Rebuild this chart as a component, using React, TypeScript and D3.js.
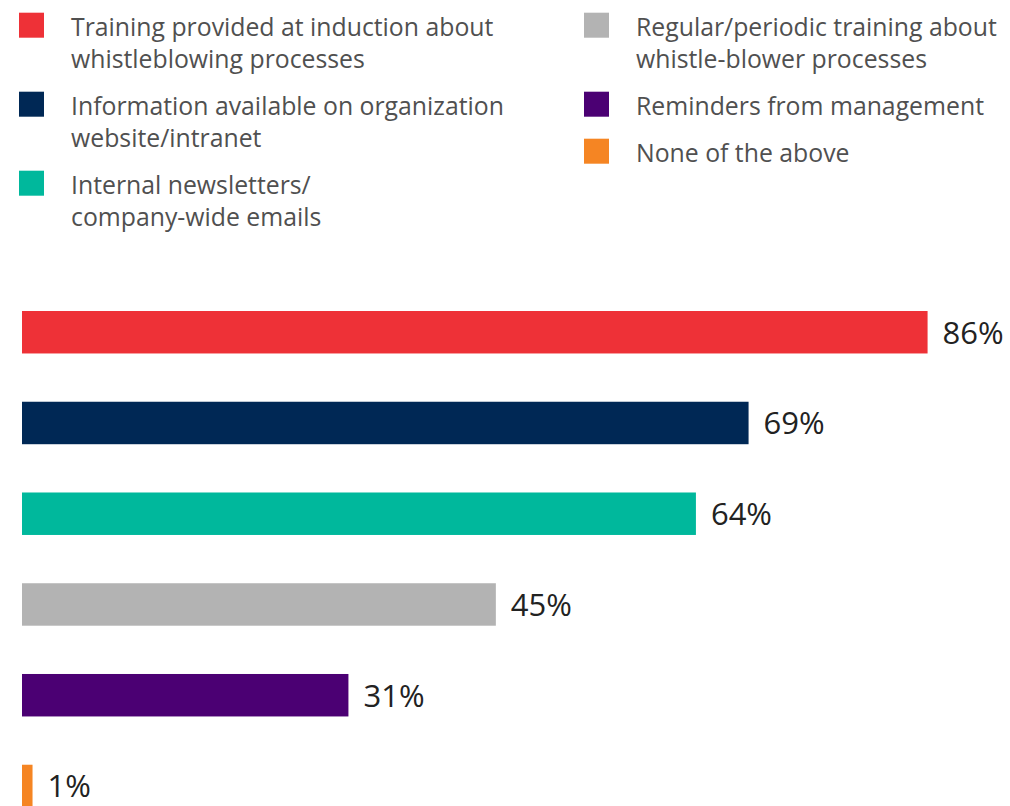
import React from "react";
import * as d3 from "d3";

const categories = [
  "Training provided at induction about whistleblowing processes",
  "Information available on organization website/intranet",
  "Internal newsletters/ company-wide emails",
  "Regular/periodic training about whistle-blower processes",
  "Reminders from management",
  "None of the above",
];
const legendLines = [
  ["Training provided at induction about", "whistleblowing processes"],
  ["Information available on organization", "website/intranet"],
  ["Internal newsletters/", "company-wide emails"],
  ["Regular/periodic training about", "whistle-blower processes"],
  ["Reminders from management"],
  ["None of the above"],
];
const values = [86, 69, 64, 45, 31, 1];
const colors = ["#EE3137", "#002855", "#00B89C", "#B3B3B3", "#4B0073", "#F58523"];

const W = 1010;
const H = 806;
const FONT = "'Open Sans', 'Noto Sans', sans-serif";

export default function App() {
  const x = d3.scaleLinear().domain([0, 100]).range([22, 22 + 1053]);
  const y = d3
    .scaleBand<string>()
    .domain(categories)
    .range([311, 807.2])
    .paddingInner(0.532)
    .paddingOuter(0);

  const lineH = 32;
  const itemGap = 15;
  const cols = [
    { x: 19, items: [0, 1, 2] },
    { x: 584, items: [3, 4, 5] },
  ];
  const legendItems: { i: number; x: number; y: number }[] = [];
  cols.forEach((c) => {
    let yy = 12.7;
    c.items.forEach((i) => {
      legendItems.push({ i, x: c.x, y: yy });
      yy += legendLines[i].length * lineH + itemGap;
    });
  });

  return (
    <svg
      width={W}
      height={H}
      style={{ position: "absolute", left: 0, top: 0, background: "#fff" }}
    >
      <g>
        {legendItems.map(({ i, x: lx, y: ly }) => (
          <g key={i}>
            <rect x={lx} y={ly} width={25} height={25} fill={colors[i]} />
            <text
              x={lx + 52}
              y={ly + 23.5}
              fontFamily={FONT}
              fontSize={24.8}
              fill="#505050"
            >
              {legendLines[i].map((l, k) => (
                <tspan key={k} x={lx + 52} dy={k === 0 ? 0 : lineH}>
                  {l}
                </tspan>
              ))}
            </text>
          </g>
        ))}
      </g>
      <g>
        {categories.map((c, i) => (
          <g key={c}>
            <rect
              x={x(0)}
              y={y(c)}
              width={x(values[i]) - x(0)}
              height={y.bandwidth()}
              fill={colors[i]}
            />
            <text
              x={x(values[i]) + 15}
              y={(y(c) as number) + y.bandwidth() / 2 + 11.5}
              fontFamily={FONT}
              fontSize={31}
              fill="#222"
            >
              {values[i]}%
            </text>
          </g>
        ))}
      </g>
    </svg>
  );
}
